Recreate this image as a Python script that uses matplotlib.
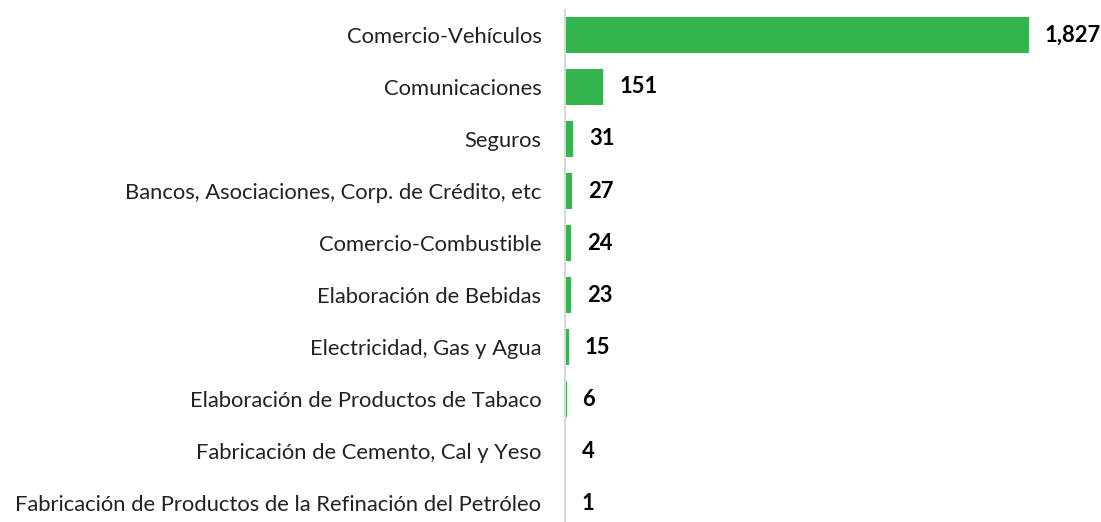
import matplotlib
matplotlib.use('Agg')
import matplotlib.pyplot as plt

categorias = [
    'Comercio-Vehículos',
    'Comunicaciones',
    'Seguros',
    'Bancos, Asociaciones, Corp. de Crédito, etc',
    'Comercio-Combustible',
    'Elaboración de Bebidas',
    'Electricidad, Gas y Agua',
    'Elaboración de Productos de Tabaco',
    'Fabricación de Cemento, Cal y Yeso',
    'Fabricación de Productos de la Refinación del Petróleo',
]
valores = [1827, 151, 31, 27, 24, 23, 15, 6, 4, 1]

verde = '#34B44C'

plt.rcParams['font.family'] = ['Lato', 'DejaVu Sans']

fig = plt.figure(figsize=(11.01, 5.22), dpi=100)
ax = fig.add_axes([565 / 1101, 0, 464 / 1101, 512 / 522])

pos = list(range(len(categorias)))
ax.barh(pos, valores, height=0.69, color=verde)

for p, v in zip(pos, valores):
    ax.annotate(f'{v:,}', xy=(v, p), xytext=(16, 0), textcoords='offset pixels',
                va='center', ha='left', fontsize=15.8, fontweight='bold',
                color='black', annotation_clip=False)

ax.set_yticks(pos)
ax.set_yticklabels(categorias, fontsize=15.8, color='#222222')
ax.tick_params(axis='y', length=0, pad=17)
ax.set_xticks([])
ax.set_xlim(0, 1827)
ax.set_ylim(9 + 19 / 52, -25 / 52)

for s in ['top', 'right', 'bottom']:
    ax.spines[s].set_visible(False)
ax.spines['left'].set_color('#D9D9D9')
ax.spines['left'].set_linewidth(1.5)

fig.savefig('out.png', dpi=100)
